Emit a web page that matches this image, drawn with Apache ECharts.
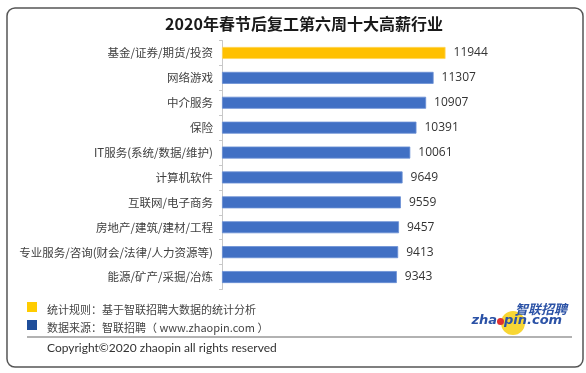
<!DOCTYPE html>
<html><head><meta charset="utf-8">
<script src="https://cdn.jsdelivr.net/npm/echarts@6/dist/echarts.min.js"></script>
<style>html,body{margin:0;padding:0;background:#fff}#c{width:586px;height:373px}</style>
</head><body><div id="c"></div>
<script>
const titleText = '2020年春节后复工第六周十大高薪行业';
const categories = ['基金/证券/期货/投资','网络游戏','中介服务','保险','IT服务(系统/数据/维护)','计算机软件','互联网/电子商务','房地产/建筑/建材/工程','专业服务/咨询(财会/法律/人力资源等)','能源/矿产/采掘/冶炼'];
const values = [11944,11307,10907,10391,10061,9649,9559,9457,9413,9343];
const noteLines = ['统计规则：基于智联招聘大数据的统计分析','数据来源：智联招聘（ www.zhaopin.com ）'];
const copyright = 'Copyright©2020 zhaopin all rights reserved';

const CJK = '"Noto Sans CJK SC", "Noto Sans", sans-serif';
const chart = echarts.init(document.getElementById('c'), null, {renderer:'canvas'});
chart.setOption({
  animation:false,
  backgroundColor:'#fff',
  title:{text:titleText,left:299,top:11,textAlign:'center',textStyle:{fontFamily:CJK,fontSize:16,fontWeight:'bold',color:'#1a1a1a'}},
  grid:{left:222,right:102,top:40.5,bottom:83.5},
  xAxis:{type:'value',min:0,max:14000,show:false},
  yAxis:{type:'category',data:categories,inverse:true,
    axisLine:{show:true,lineStyle:{color:'#C8C8C8',width:1}},
    axisTick:{show:true,length:3,lineStyle:{color:'#C8C8C8'}},
    axisLabel:{margin:9,color:'#404040',fontSize:11.5,fontFamily:CJK}},
  series:[{type:'bar',data:values.map((v,i)=>({value:v,itemStyle:{color:i===0?'#FFC000':'#4170C4',borderColor:i===0?'#FFD55A':'#6A8FD4',borderWidth:0.8}})),
    barWidth:12,
    label:{show:true,position:'right',distance:8,color:'#333',fontSize:12,fontFamily:'"Open Sans", sans-serif'}}],
  graphic:[
    {type:'rect',shape:{x:7,y:8,width:576,height:359,r:8},style:{fill:'none',stroke:'#555',lineWidth:1.5},silent:true},
    {type:'rect',shape:{x:27,y:302,width:10,height:10},style:{fill:'#FFCC00'}},
    {type:'rect',shape:{x:27,y:320,width:10,height:10},style:{fill:'#1F4E9A'}},
    {type:'text',x:47,y:310,style:{text:noteLines[0],fill:'#444',font:'11px '+CJK,textVerticalAlign:'middle'}},
    {type:'text',x:47,y:328,style:{text:noteLines[1],fill:'#444',font:'11px '+CJK,textVerticalAlign:'middle'}},
    {type:'line',shape:{x1:27,y1:337,x2:572,y2:337},style:{stroke:'#999',lineWidth:1.5}},
    {type:'text',x:47,y:348,style:{text:copyright,fill:'#333',font:'12px Lato, sans-serif',textVerticalAlign:'middle'}},
    {type:'circle',shape:{cx:513,cy:323,r:12},style:{fill:'#F7D21E',opacity:0.9}},
    {type:'text',x:541,y:309,style:{text:'智联招聘',fill:'#2B52A6',font:'italic bold 13px '+CJK,textAlign:'center',textVerticalAlign:'middle'}},
    {type:'text',x:497,y:321,style:{text:'zha',fill:'#2B52A6',font:'italic bold 13px "DejaVu Sans", sans-serif',textAlign:'right',textVerticalAlign:'middle'}},
    {type:'circle',shape:{cx:500.5,cy:321.5,r:3.5},style:{fill:'#E03030'}},
    {type:'text',x:504,y:321,style:{text:'pin.com',fill:'#2B52A6',font:'italic bold 13px "DejaVu Sans", sans-serif',textAlign:'left',textVerticalAlign:'middle'}}
  ]
});
</script></body></html>
